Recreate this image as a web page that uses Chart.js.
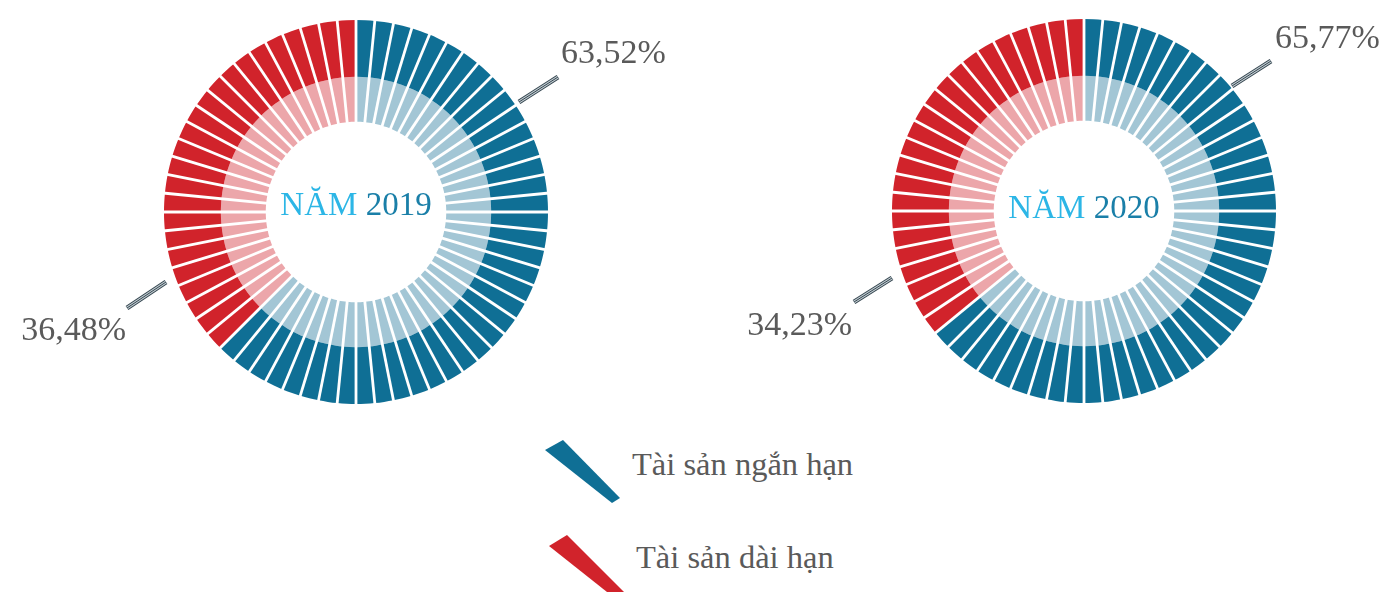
<!DOCTYPE html>
<html>
<head>
<meta charset="utf-8">
<script src="https://cdn.jsdelivr.net/npm/chart.js@4.4.0/dist/chart.umd.min.js"></script>
<style>
  html, body { margin: 0; padding: 0; background: #fff; }
  body { width: 1389px; height: 592px; position: relative; overflow: hidden; font-family: "Liberation Serif", serif; }
  canvas { position: absolute; top: 0; }
  #c2019 { left: 0; }
  #c2020 { left: 700px; }
  .mark { position: absolute; left: 0; top: 0; width: 1389px; height: 592px; }
  .legend-text { position: absolute; color: #5a5a5a; font-size: 32.5px; line-height: 32px; white-space: nowrap; }
</style>
</head>
<body>
<canvas id="c2019" width="712" height="424"></canvas>
<canvas id="c2020" width="689" height="422"></canvas>

<div class="mark" style="background:#0f6f95; clip-path: polygon(545px 450px, 563px 440px, 620px 498px, 612px 503px);"></div>
<div class="mark" style="background:#d1232b; clip-path: polygon(549px 546px, 567px 535px, 624px 592px, 607px 592px);"></div>
<div class="legend-text" id="lg0" style="left:632px; top:448px;"></div>
<div class="legend-text" id="lg1" style="left:636px; top:541px;"></div>

<script>
// du lieu doc tu hinh
const years = ['2019', '2020'];
const shortTermPct = [63.52, 65.77];   // Tai san ngan han
const longTermPct = [36.48, 34.23];    // Tai san dai han
const segmentTotal = 64;               // so o tren moi vong
const longTermSegments = [24, 23];     // so o mau do, dem tu hinh
const legendLabels = ['Tài sản ngắn hạn', 'Tài sản dài hạn'];

const FONT = '"Liberation Serif", serif';
const colors = {
    blueDark: '#0f6f95',
    blueLight: '#a3c6d5',
    redDark: '#d1232b',
    redLight: '#eca6aa',
    text: '#5a5a5a',
    nam: '#2cb6e6',
    year: '#1a7fa8'
};

document.querySelector('#lg0').textContent = legendLabels[0];
document.querySelector('#lg1').textContent = legendLabels[1];

const fmt = v => v.toFixed(2).replace('.', ',') + '%';

// vi tri nhan (so voi tam vong tron)
const annot = [
    { textDy: 3, top: { line: [163, -110, 202, -135], text: [205, -149] }, bottom: { line: [-190, 70, -229, 96], text: [-230, 128] } },
    { textDy: 7, top: { line: [148, -125, 187, -150], text: [191, -163] }, bottom: { line: [-192, 67, -230, 91], text: [-232, 124] } }
];

// ve khe trang giua cac o
const gapPlugin = {
    id: 'gaps',
    afterDatasetsDraw(chart) {
        const outer = chart.getDatasetMeta(0).data;
        const inner = chart.getDatasetMeta(1).data;
        const ctx = chart.ctx;
        ctx.save();
        ctx.strokeStyle = '#fff';
        ctx.lineWidth = 2.8;
        outer.forEach((arc, i) => {
            const a = arc.startAngle;
            const r0 = inner[i].innerRadius - 2;
            const r1 = arc.outerRadius + 2;
            ctx.beginPath();
            ctx.moveTo(arc.x + Math.cos(a) * r0, arc.y + Math.sin(a) * r0);
            ctx.lineTo(arc.x + Math.cos(a) * r1, arc.y + Math.sin(a) * r1);
            ctx.stroke();
        });
        ctx.restore();
    }
};

const stripeLine = (ctx, x1, y1, x2, y2) => {
    [[5, '#33444e'], [3, '#c3cdd2'], [1, '#33444e']].forEach(([w, c]) => {
        ctx.strokeStyle = c;
        ctx.lineWidth = w;
        ctx.beginPath();
        ctx.moveTo(x1, y1);
        ctx.lineTo(x2, y2);
        ctx.stroke();
    });
};

const labelPlugin = {
    id: 'labels',
    afterDraw(chart) {
        const k = chart.options.plugins.labels.index;
        const arc = chart.getDatasetMeta(0).data[0];
        const cx = arc.x, cy = arc.y;
        const ctx = chart.ctx;
        const an = annot[k];
        ctx.save();

        // chu o giua
        ctx.font = '33px ' + FONT;
        ctx.textBaseline = 'alphabetic';
        ctx.textAlign = 'left';
        const w1 = ctx.measureText('NĂM ').width;
        const w2 = ctx.measureText(years[k]).width;
        let x = cx - (w1 + w2) / 2;
        ctx.fillStyle = colors.nam;
        ctx.fillText('NĂM ', x, cy + an.textDy);
        ctx.fillStyle = colors.year;
        ctx.fillText(years[k], x + w1, cy + an.textDy);

        // duong dan va phan tram
        ctx.lineCap = 'butt';
        const t = an.top.line, b = an.bottom.line;
        stripeLine(ctx, cx + t[0], cy + t[1], cx + t[2], cy + t[3]);
        stripeLine(ctx, cx + b[0], cy + b[1], cx + b[2], cy + b[3]);

        ctx.font = '34px ' + FONT;
        ctx.fillStyle = colors.text;
        ctx.textAlign = 'left';
        ctx.fillText(fmt(shortTermPct[k]), cx + an.top.text[0], cy + an.top.text[1]);
        ctx.textAlign = 'right';
        ctx.fillText(fmt(longTermPct[k]), cx + an.bottom.text[0], cy + an.bottom.text[1]);
        ctx.restore();
    }
};

const veVong = (k, canvasId, padding) => {
    const blueCount = segmentTotal - longTermSegments[k];
    const units = new Array(segmentTotal).fill(1);
    const dark = units.map((u, i) => i < blueCount ? colors.blueDark : colors.redDark);
    const light = units.map((u, i) => i < blueCount ? colors.blueLight : colors.redLight);

    new Chart(document.getElementById(canvasId), {
        type: 'doughnut',
        data: {
            datasets: [
                { data: units, backgroundColor: dark, borderWidth: 0, weight: 57 },
                { data: units, backgroundColor: light, borderWidth: 0, weight: 45 }
            ]
        },
        options: {
            responsive: false,
            animation: false,
            events: [],
            cutout: '47%',
            layout: { padding: padding },
            plugins: {
                legend: { display: false },
                tooltip: { enabled: false },
                labels: { index: k }
            }
        },
        plugins: [gapPlugin, labelPlugin]
    });
};

veVong(0, 'c2019', { left: 20, right: 20, top: 20, bottom: 20 });
veVong(1, 'c2020', { left: 99, right: 20, top: 19, bottom: 19 });
</script>
</body>
</html>
